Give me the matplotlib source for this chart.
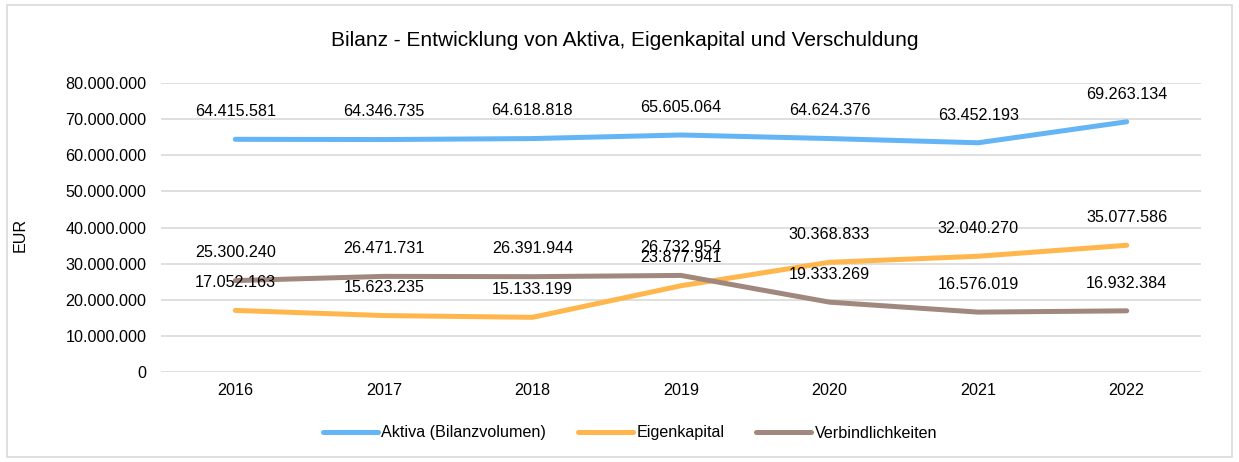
import matplotlib.pyplot as plt
from matplotlib.patches import Rectangle
from matplotlib.ticker import FuncFormatter

plt.rcParams['font.family'] = ['Liberation Sans', 'DejaVu Sans']

years = ['2016', '2017', '2018', '2019', '2020', '2021', '2022']
aktiva = [64415581, 64346735, 64618818, 65605064, 64624376, 63452193, 69263134]
eigenkapital = [17052163, 15623235, 15133199, 23877941, 30368833, 32040270, 35077586]
verbindlichkeiten = [25300240, 26471731, 26391944, 26732954, 19333269, 16576019, 16932384]

series = [
    ('Aktiva (Bilanzvolumen)', aktiva, '#64B5F6'),
    ('Eigenkapital', eigenkapital, '#FFB74D'),
    ('Verbindlichkeiten', verbindlichkeiten, '#A1887F'),
]


def de_fmt(v, pos=None):
    return f'{int(round(v)):,}'.replace(',', '.')


fig = plt.figure(figsize=(12.39, 4.62), dpi=100)
# chart frame
fig.patches.append(Rectangle((7 / 1239, 5 / 462), 1225 / 1239, 452 / 462,
                             transform=fig.transFigure, fill=False,
                             ec='#D9D9D9', lw=1.2))

ax = fig.add_axes([161 / 1239, (462 - 372) / 462, 1040 / 1239, 289 / 462])
x = list(range(len(years)))

for name, vals, col in series:
    ax.plot(x, vals, color=col, lw=3.6, solid_capstyle='round', label=name, zorder=3)
    for xi, v in zip(x, vals):
        ax.annotate(de_fmt(v), xy=(xi, v), xytext=(0, 20), textcoords='offset points',
                    ha='center', va='center', fontsize=11.6, color='#000000', zorder=4)

ax.set_xlim(-0.5, len(years) - 0.5)
ax.set_ylim(0, 80000000)
ax.set_yticks(range(0, 80000001, 10000000))
ax.yaxis.set_major_formatter(FuncFormatter(de_fmt))
ax.set_xticks(x)
ax.set_xticklabels(years)
ax.tick_params(axis='both', length=0, labelsize=11.6, colors='#000000')
ax.tick_params(axis='x', pad=8)
ax.tick_params(axis='y', pad=10.5)
ax.grid(axis='y', color='#D9D9D9', lw=1.2)
ax.set_axisbelow(True)
for s in ax.spines.values():
    s.set_visible(False)

fig.text(20 / 1239, 1 - 235 / 462, 'EUR', rotation=90, ha='center', va='center', fontsize=11.6)
fig.text(625 / 1239, 1 - 41 / 462, 'Bilanz - Entwicklung von Aktiva, Eigenkapital und Verschuldung',
         ha='center', va='center', fontsize=15)

fig.legend(loc='center', bbox_to_anchor=(630 / 1239, 1 - 433 / 462), ncol=3, frameon=False,
           fontsize=11.6, handlelength=3.4, handletextpad=0.2, columnspacing=2.0)

fig.savefig('out.png', dpi=100)
